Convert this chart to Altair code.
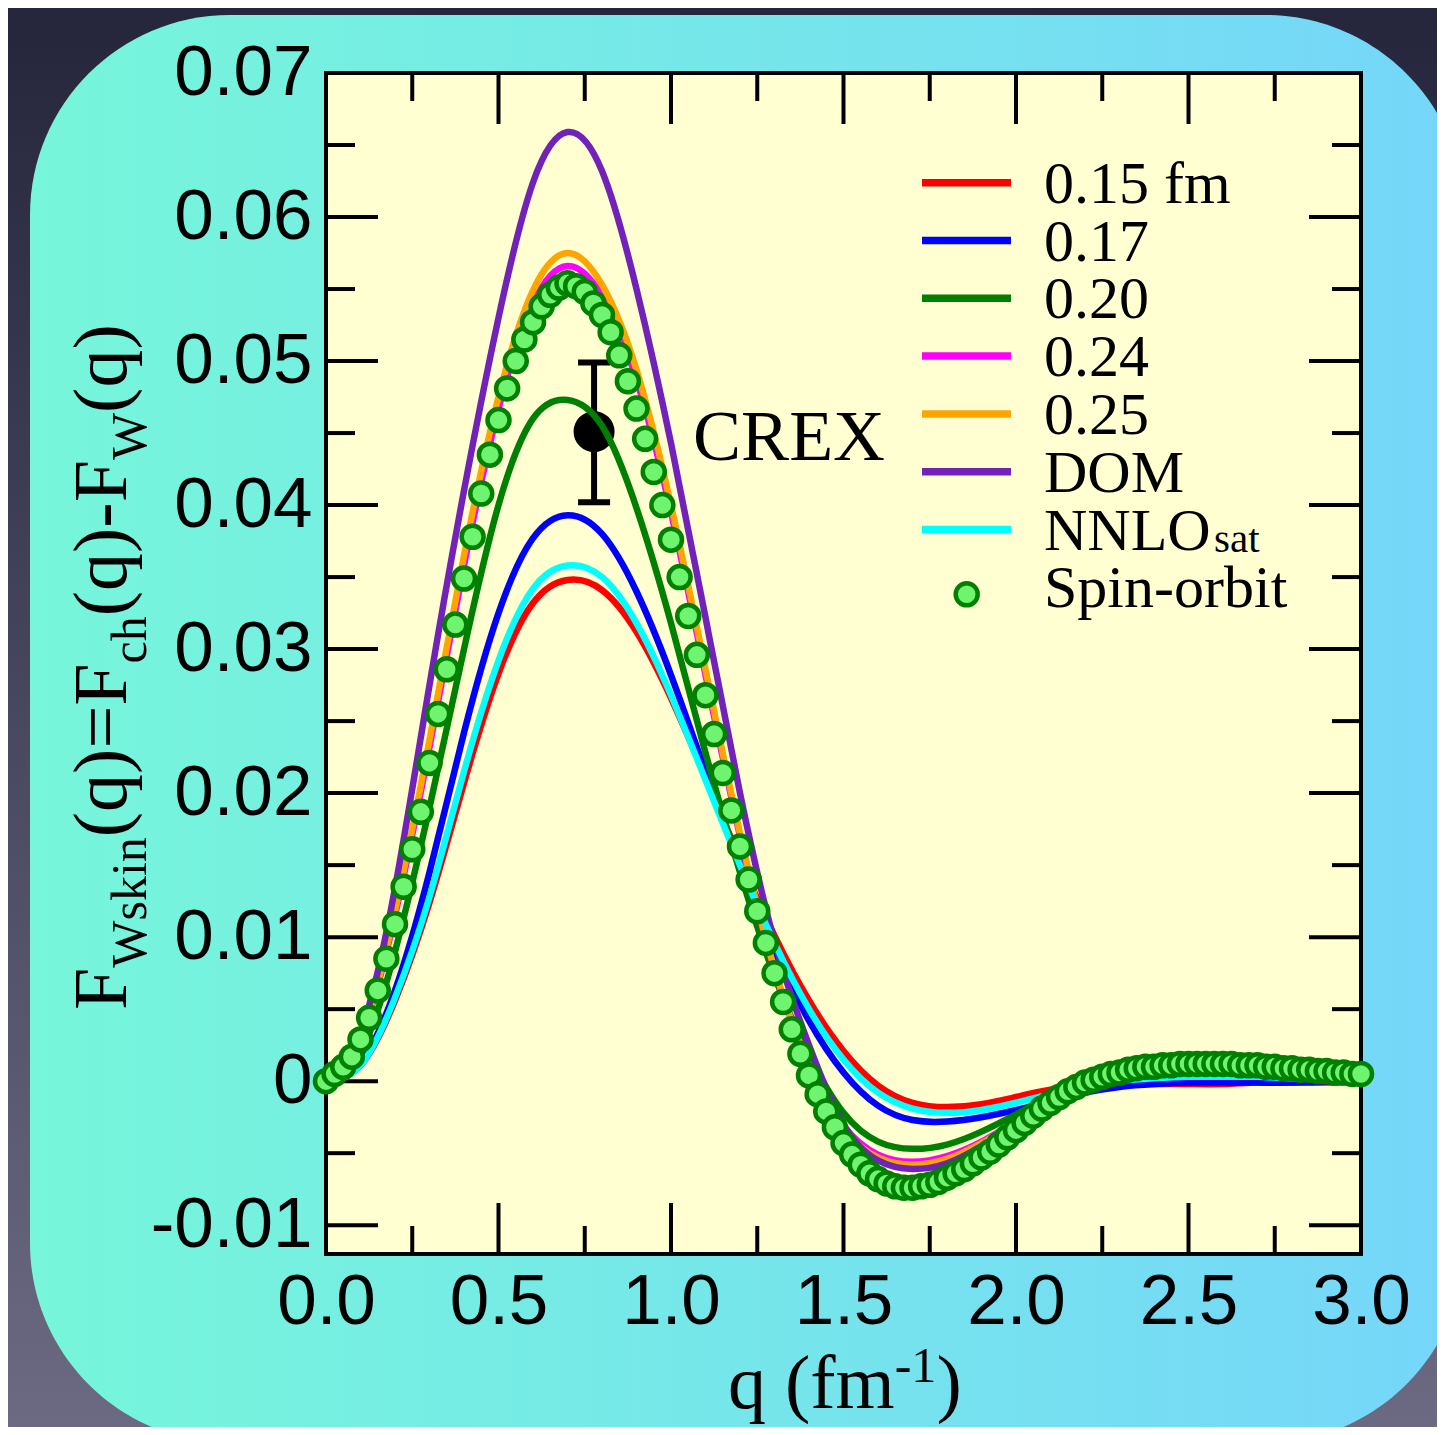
import altair as alt
import pandas as pd

# ---------------- data ----------------
q_line = [0.0, 0.1, 0.2, 0.3, 0.4, 0.5, 0.6, 0.7, 0.8, 0.9, 1.0,
          1.1, 1.2, 1.3, 1.4, 1.5, 1.6, 1.7, 1.8, 1.9, 2.0,
          2.1, 2.2, 2.3, 2.4, 2.5, 2.6, 2.7, 2.8, 2.9, 3.0]

f_015 = [0.0, 0.0011, 0.0056, 0.0124, 0.0207, 0.0283, 0.0332, 0.0348, 0.0341, 0.0312, 0.0266,
         0.0211, 0.0154, 0.0101, 0.0056, 0.0021, -0.0003, -0.0015, -0.0018, -0.0016, -0.0011,
         -0.0006, -0.0003, -0.0002, -0.0002, -0.0002, -0.0002, -0.0001, -0.0001, -0.0001, 0.0]
f_017 = [0.0, 0.0013, 0.0063, 0.0145, 0.0242, 0.0325, 0.0377, 0.0393, 0.0380, 0.0340, 0.0282,
         0.0215, 0.0150, 0.0091, 0.0042, 0.0006, -0.0017, -0.0027, -0.0028, -0.0025, -0.0020,
         -0.0014, -0.0008, -0.0004, -0.0002, -0.0001, -0.0001, -0.0001, -0.0001, 0.0, 0.0]
f_020 = [0.0, 0.0020, 0.0090, 0.0190, 0.0300, 0.0400, 0.0460, 0.0473, 0.0455, 0.0398, 0.0318,
         0.0228, 0.0145, 0.0073, 0.0018, -0.0022, -0.0042, -0.0047, -0.0044, -0.0035, -0.0023,
         -0.0011, -0.0003, 0.0002, 0.0004, 0.0005, 0.0005, 0.0004, 0.0003, 0.0002, 0.0002]
f_024 = [0.0, 0.0030, 0.0115, 0.0232, 0.0358, 0.0467, 0.0540, 0.0566, 0.0545, 0.0487, 0.0395,
         0.0282, 0.0170, 0.0077, 0.0012, -0.0031, -0.0051, -0.0056, -0.0052, -0.0042, -0.0028,
         -0.0015, -0.0004, 0.0003, 0.0007, 0.0009, 0.0009, 0.0008, 0.0006, 0.0005, 0.0004]
f_025 = [0.0, 0.0031, 0.0118, 0.0237, 0.0365, 0.0475, 0.0549, 0.0575, 0.0553, 0.0494, 0.0400,
         0.0286, 0.0172, 0.0078, 0.0011, -0.0033, -0.0053, -0.0058, -0.0054, -0.0043, -0.0029,
         -0.0015, -0.0004, 0.0004, 0.0008, 0.0010, 0.0010, 0.0009, 0.0007, 0.0005, 0.0004]
f_dom = [0.0, 0.0034, 0.0134, 0.0275, 0.0410, 0.0530, 0.0624, 0.0659, 0.0632, 0.0550, 0.0443,
         0.0322, 0.0200, 0.0097, 0.0025, -0.0030, -0.0055, -0.0061, -0.0057, -0.0045, -0.0030,
         -0.0015, -0.0004, 0.0004, 0.0008, 0.0010, 0.0010, 0.0009, 0.0007, 0.0005, 0.0004]
f_nnlo = [0.0, 0.0011, 0.0058, 0.0128, 0.0215, 0.0292, 0.0342, 0.0358, 0.0350, 0.0318, 0.0268,
          0.0209, 0.0150, 0.0096, 0.0050, 0.0015, -0.0008, -0.0019, -0.0022, -0.0020, -0.0015,
          -0.0009, -0.0004, 0.0000, 0.0002, 0.0003, 0.0003, 0.0003, 0.0002, 0.0002, 0.0001]

q_so = [0.000, 0.025, 0.050, 0.075, 0.100, 0.125, 0.150, 0.175, 0.200, 0.225,
        0.250, 0.275, 0.300, 0.325, 0.350, 0.375, 0.400, 0.425, 0.450, 0.475,
        0.500, 0.525, 0.550, 0.575, 0.600, 0.625, 0.650, 0.675, 0.700, 0.725,
        0.750, 0.775, 0.800, 0.825, 0.850, 0.875, 0.900, 0.925, 0.950, 0.975,
        1.000, 1.025, 1.050, 1.075, 1.100, 1.125, 1.150, 1.175, 1.200, 1.225,
        1.250, 1.275, 1.300, 1.325, 1.350, 1.375, 1.400, 1.425, 1.450, 1.475,
        1.500, 1.525, 1.550, 1.575, 1.600, 1.625, 1.650, 1.675, 1.700, 1.725,
        1.750, 1.775, 1.800, 1.825, 1.850, 1.875, 1.900, 1.925, 1.950, 1.975,
        2.000, 2.025, 2.050, 2.075, 2.100, 2.125, 2.150, 2.175, 2.200, 2.225,
        2.250, 2.275, 2.300, 2.325, 2.350, 2.375, 2.400, 2.425, 2.450, 2.475,
        2.500, 2.525, 2.550, 2.575, 2.600, 2.625, 2.650, 2.675, 2.700, 2.725,
        2.750, 2.775, 2.800, 2.825, 2.850, 2.875, 2.900, 2.925, 2.950, 2.975,
        3.000]
f_so = [0.0000, 0.0005, 0.0010, 0.0017, 0.0029, 0.0044, 0.0063, 0.0085, 0.0109, 0.0135,
        0.0161, 0.0187, 0.0221, 0.0255, 0.0286, 0.0317, 0.0349, 0.0378, 0.0408, 0.0435,
        0.0459, 0.0481, 0.0500, 0.0515, 0.0527, 0.0538, 0.0546, 0.0551, 0.0554, 0.0552,
        0.0548, 0.0540, 0.0532, 0.0520, 0.0504, 0.0486, 0.0467, 0.0446, 0.0423, 0.0400,
        0.0376, 0.0350, 0.0323, 0.0296, 0.0268, 0.0241, 0.0214, 0.0188, 0.0163, 0.0140,
        0.0118, 0.0096, 0.0075, 0.0055, 0.0036, 0.0019, 0.0004, -0.0009, -0.0021, -0.0032,
        -0.0043, -0.0051, -0.0058, -0.0064, -0.0068, -0.0071, -0.0073, -0.0074, -0.0074, -0.0073,
        -0.0072, -0.0070, -0.0067, -0.0064, -0.0061, -0.0057, -0.0053, -0.0049, -0.0044, -0.0039,
        -0.0034, -0.0029, -0.0024, -0.0019, -0.0015, -0.0011, -0.0007, -0.0004, -0.0001, 0.0001,
        0.0003, 0.0005, 0.0006, 0.0008, 0.0009, 0.0010, 0.0010, 0.0011, 0.0011, 0.0012,
        0.0012, 0.0012, 0.0012, 0.0012, 0.0012, 0.0012, 0.0011, 0.0011, 0.0011, 0.0010,
        0.0010, 0.0009, 0.0009, 0.0008, 0.0008, 0.0007, 0.0007, 0.0006, 0.0006, 0.0005,
        0.0005]

crex_q = [0.777]
crex_f = [0.0451]
crex_lo = [0.0402]
crex_hi = [0.0499]
crex_label = ["CREX"]
crex_label_q = [1.064]
crex_label_f = [0.0431]

series_names = ["0.15 fm", "0.17", "0.20", "0.24", "0.25", "DOM", "NNLO", "Spin-orbit"]
series_colors = ["#ff0000", "#0000ff", "#008000", "#ff00ff", "#ffa500", "#7222b8", "#00ffff"]
series_values = [f_015, f_017, f_020, f_024, f_025, f_dom, f_nnlo]

x_ticks_major = [0.5, 1.0, 1.5, 2.0, 2.5]
x_ticks_minor = [0.25, 0.75, 1.25, 1.75, 2.25, 2.75]
y_ticks_major = [-0.01, 0.0, 0.01, 0.02, 0.03, 0.04, 0.05, 0.06]
y_ticks_minor = [-0.005, 0.005, 0.015, 0.025, 0.035, 0.045, 0.055, 0.065]
x_labels = [0.0, 0.5, 1.0, 1.5, 2.0, 2.5, 3.0]
y_labels = [-0.01, 0.0, 0.01, 0.02, 0.03, 0.04, 0.05, 0.06, 0.07]

# ---------------- layout / style ----------------
W, H = 1035, 1181
PAD = {"left": 318, "top": 65, "right": 76, "bottom": 173}
SANS = "Liberation Sans"
SERIF = "Liberation Serif"
SO_FILL = "#6ef46e"
SO_STROKE = "#008000"

xscale = alt.Scale(domain=[0.0, 3.0], nice=False, zero=False)
yscale = alt.Scale(domain=[-0.012, 0.07], nice=False, zero=False)

xaxis = alt.Axis(values=x_labels, format=".1f", labelFont=SANS, labelFontSize=71,
                 labelColor="black", labelPadding=13, ticks=False, domain=False,
                 grid=False, title=None, labelFlush=False, labelOverlap=False, zindex=1)
yaxis = alt.Axis(values=y_labels,
                 labelExpr="datum.value == 0 ? '0' : (datum.value < 0 ? '-' + format(-datum.value, '.2f') : format(datum.value, '.2f'))",
                 labelFont=SANS, labelFontSize=71, labelColor="black", labelPadding=14,
                 ticks=False, domain=False, grid=False, title=None, labelFlush=False,
                 labelOverlap=False, zindex=1)


def X(field):
    return alt.X(field, type="quantitative", scale=xscale, axis=xaxis)


def Y(field):
    return alt.Y(field, type="quantitative", scale=yscale, axis=yaxis)


one = pd.DataFrame({"d": [0]})
layers = []

# page background (dark) and rounded panel
layers.append(alt.Chart(one).mark_rect(
    fill=alt.LinearGradient(gradient="linear", x1=0, y1=0, x2=0, y2=1,
                            stops=[alt.GradientStop(color="#25253b", offset=0),
                                   alt.GradientStop(color="#6b6a82", offset=1)])
).encode(x=alt.value(-PAD["left"]), x2=alt.value(W + PAD["right"]),
         y=alt.value(-PAD["top"]), y2=alt.value(H + PAD["bottom"])))

layers.append(alt.Chart(one).mark_rect(
    cornerRadius=200,
    fill=alt.LinearGradient(gradient="linear", x1=0, y1=0, x2=1, y2=0,
                            stops=[alt.GradientStop(color="#76f6da", offset=0),
                                   alt.GradientStop(color="#75d6fa", offset=1)])
).encode(x=alt.value(-296), x2=alt.value(1139), y=alt.value(-58), y2=alt.value(1370)))

# plot area background
layers.append(alt.Chart(one).mark_rect(fill="#ffffd2").encode(
    x=alt.value(0), x2=alt.value(W), y=alt.value(0), y2=alt.value(H)))

# inward ticks on all four sides
for vals, L in ((x_ticks_major, 51), (x_ticks_minor, 28)):
    df = pd.DataFrame({"v": vals})
    layers.append(alt.Chart(df).mark_rule(color="black", strokeWidth=4).encode(
        x=X("v"), y=alt.value(H), y2=alt.value(H - L)))
    layers.append(alt.Chart(df).mark_rule(color="black", strokeWidth=4).encode(
        x=X("v"), y=alt.value(0), y2=alt.value(L)))
for vals, L in ((y_ticks_major, 52), (y_ticks_minor, 29)):
    df = pd.DataFrame({"v": vals})
    layers.append(alt.Chart(df).mark_rule(color="black", strokeWidth=4).encode(
        y=Y("v"), x=alt.value(0), x2=alt.value(L)))
    layers.append(alt.Chart(df).mark_rule(color="black", strokeWidth=4).encode(
        y=Y("v"), x=alt.value(W), x2=alt.value(W - L)))

# frame
layers.append(alt.Chart(one).mark_rect(filled=False, stroke="black", strokeWidth=4).encode(
    x=alt.value(0), x2=alt.value(W), y=alt.value(0), y2=alt.value(H)))

# CREX point with error bar
crex = pd.DataFrame({"q": crex_q, "f": crex_f, "lo": crex_lo, "hi": crex_hi})
layers.append(alt.Chart(crex).mark_rule(color="black", strokeWidth=6).encode(
    x=X("q"), y=Y("lo"), y2=alt.Y2("hi")))
layers.append(alt.Chart(crex).mark_tick(orient="horizontal", color="black", size=32,
                                        thickness=6, opacity=1).encode(x=X("q"), y=Y("lo")))
layers.append(alt.Chart(crex).mark_tick(orient="horizontal", color="black", size=32,
                                        thickness=6, opacity=1).encode(x=X("q"), y=Y("hi")))
layers.append(alt.Chart(crex).mark_circle(color="black", size=1681, opacity=1).encode(
    x=X("q"), y=Y("f")))

# model curves
for name, col, vals in zip(series_names, series_colors, series_values):
    df = pd.DataFrame({"q": q_line, "f": vals})
    layers.append(alt.Chart(df).mark_line(color=col, strokeWidth=6.5,
                                          interpolate="natural").encode(
        x=X("q"), y=Y("f")))

# spin-orbit points
so = pd.DataFrame({"q": q_so, "f": f_so})
layers.append(alt.Chart(so).mark_point(shape="circle", filled=True, fill=SO_FILL,
                                       stroke=SO_STROKE, strokeWidth=4.5, size=484,
                                       opacity=1, fillOpacity=1, strokeOpacity=1).encode(
    x=X("q"), y=Y("f")))

# CREX label
lab = pd.DataFrame({"q": crex_label_q, "f": crex_label_f, "t": crex_label})
layers.append(alt.Chart(lab).mark_text(font=SERIF, fontSize=72, align="left",
                                       baseline="alphabetic", color="black").encode(
    x=X("q"), y=Y("f"), text="t:N"))

# legend
LEG_X0, LEG_X1, LEG_TX, LEG_Y0, LEG_DY = 596, 685, 718, 109.7, 57.8
for i, name in enumerate(series_names):
    yc = LEG_Y0 + LEG_DY * i
    if i < len(series_colors):
        layers.append(alt.Chart(one).mark_rule(color=series_colors[i], strokeWidth=7.5).encode(
            x=alt.value(LEG_X0), x2=alt.value(LEG_X1), y=alt.value(yc)))
    else:
        layers.append(alt.Chart(one).mark_point(shape="circle", filled=True, fill=SO_FILL,
                                                stroke=SO_STROKE, strokeWidth=4.5, size=484,
                                                opacity=1).encode(
            x=alt.value(640.7), y=alt.value(yc + 7)))
    layers.append(alt.Chart(one).mark_text(text=name, font=SERIF, fontSize=60, align="left",
                                           baseline="alphabetic", color="black").encode(
        x=alt.value(LEG_TX), y=alt.value(yc + 20)))
    if name == "NNLO":
        layers.append(alt.Chart(one).mark_text(text="sat", font=SERIF, fontSize=41, align="left",
                                               baseline="alphabetic", color="black").encode(
            x=alt.value(LEG_TX + 170), y=alt.value(yc + 22)))

# x-axis title: q (fm^-1)
for txt, xp, yp, fs in (("q (fm", 402, 1335, 76), ("-1", 568.7, 1309, 50), (")", 610.4, 1335, 76)):
    layers.append(alt.Chart(one).mark_text(text=txt, font=SERIF, fontSize=fs, align="left",
                                           baseline="alphabetic", color="black").encode(
        x=alt.value(xp), y=alt.value(yp)))

# y-axis title: F_Wskin(q)=F_ch(q)-F_W(q)  (rotated, built from pieces)
YT_BASE = -200
pieces = [("F", 76, 0), ("Wskin", 50, 20), ("(q)=F", 76, 0), ("ch", 50, 20),
          ("(q)-F", 76, 0), ("W", 50, 20), ("(q)", 76, 0)]
advances = [0.556, 2.611, 2.286, 0.944, 2.055, 0.944, 1.166]
ypos = 937.0
for (txt, fs, off), adv in zip(pieces, advances):
    layers.append(alt.Chart(one).mark_text(text=txt, font=SERIF, fontSize=fs, align="left",
                                           baseline="alphabetic", angle=270, color="black").encode(
        x=alt.value(YT_BASE + off), y=alt.value(ypos)))
    ypos -= adv * fs

chart = alt.layer(*layers).properties(
    width=W, height=H, padding=PAD, autosize=alt.AutoSizeParams(type="none"),
    background="#2e2e46"
).configure_view(strokeWidth=0)

chart.save("out.html", embed_options={"renderer": "svg", "actions": False})
